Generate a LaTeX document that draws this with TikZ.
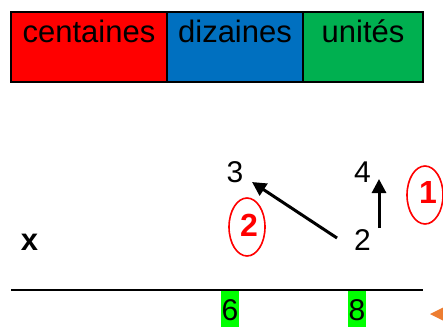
\documentclass[tikz,border=0pt]{standalone}
\usepackage{fontspec}
\setmainfont{Liberation Sans}
\usetikzlibrary{arrows.meta}
\definecolor{cred}{HTML}{FF0000}
\definecolor{cblue}{HTML}{0070C0}
\definecolor{cgreen}{HTML}{00B050}
\definecolor{hgreen}{HTML}{00FF00}
\definecolor{corange}{HTML}{ED7D31}
\tikzset{
  cell/.style={draw=black, line width=2pt, anchor=north west, minimum height=70pt, inner sep=0pt},
  celltext/.style={anchor=base, inner sep=0pt, font=\fontsize{31}{31}\selectfont},
  digit/.style={anchor=base, inner sep=0pt, font=\fontsize{30}{30}\selectfont},
  mark/.style={},
  hl/.style={fill=hgreen, inner sep=0pt, anchor=north},
  ring/.style={draw=cred, line width=1.6pt, ellipse},
  ringtext/.style={text=cred, font=\bfseries\fontsize{32}{32}\selectfont, inner sep=0pt, anchor=center},
  arr/.style={line width=3pt, -{Triangle[width=14pt,length=14pt]}},
}
\begin{document}
\begin{tikzpicture}[x=1pt,y=-1pt]
\useasboundingbox (0,0) rectangle (443,327);
% header table
\fill[cred] (11,12) rectangle (167,82);
\fill[cblue] (167,12) rectangle (303,82);
\fill[cgreen] (303,12) rectangle (423,82);
\draw[line width=2pt] (11,12) rectangle (423,82);
\draw[line width=2pt] (167,12) -- (167,82);
\draw[line width=2pt] (303,12) -- (303,82);
\node[celltext] (hc) at (89,42) {centaines};
\node[celltext] (hd) at (235,42) {dizaines};
\node[celltext] (hu) at (363,42) {unités};
% numbers
\node[digit] (n3) at (235,182) {3};
\node[digit] (n4) at (362.5,182) {4};
\node[digit] (n2) at (362.5,250) {2};
\node[anchor=base, inner sep=0pt, font=\bfseries\fontsize{31}{31}\selectfont] (nx) at (29.5,250) {x};
% arrows
\coordinate (a1s) at (337,238);
\coordinate (a1e) at (252,182);
\coordinate (a2s) at (379,228);
\coordinate (a2e) at (379,179);
\draw[arr] (a1s) -- (a1e);
\draw[arr] (a2s) -- (a2e);
% circled marks
\draw[cred, line width=1.6pt] (247,227) ellipse [x radius=18, y radius=29];
\node[ringtext] (r2) at (249,225) {2};
\draw[cred, line width=1.6pt] (425,195) ellipse [x radius=18, y radius=29];
\node[ringtext] (r1) at (428,192) {1};
% rule
\coordinate (l1) at (11,290);
\coordinate (l2) at (423,290);
\draw[line width=2pt] (l1) -- (l2);
% result digits
\fill[hgreen] (221,291) rectangle (239,327);
\fill[hgreen] (348,291) rectangle (366,327);
\node[digit] (r6) at (230,320) {6};
\node[digit] (r8) at (357,320) {8};
% orange triangle
\fill[corange] (430,314) -- (446,306) -- (446,322) -- cycle;
\end{tikzpicture}
\end{document}
